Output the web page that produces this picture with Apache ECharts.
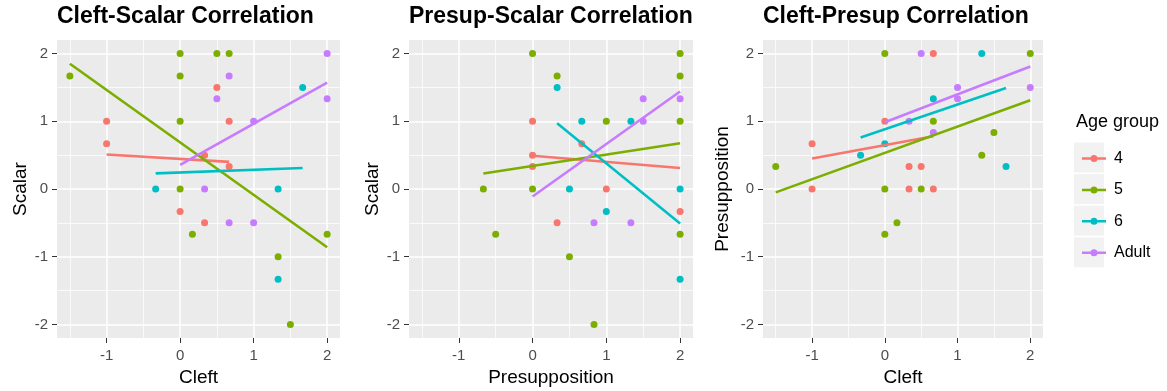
<!DOCTYPE html>
<html>
<head>
<meta charset="utf-8">
<script src="https://cdn.jsdelivr.net/npm/echarts@6/dist/echarts.min.js"></script>
<style>
  html, body { margin: 0; padding: 0; background: #fff; }
  #chart { width: 1167px; height: 391px; }
</style>
</head>
<body>
<div id="chart"></div>
<script>
const FONT = "'Liberation Sans', Arial, sans-serif"

const groupNames = ["4", "5", "6", "Adult"]
const groupColors = ["#F8766D", "#7CAE00", "#00BFC4", "#C77CFF"]

const panelTitles = ["Cleft-Scalar Correlation", "Presup-Scalar Correlation", "Cleft-Presup Correlation"]
const xNames = ["Cleft", "Presupposition", "Cleft"]
const yNames = ["Scalar", "Scalar", "Presupposition"]

const majorX = [-1, 0, 1, 2]
const minorX = [-1.5, -0.5, 0.5, 1.5]
const majorY = [-2, -1, 0, 1, 2]
const minorY = [-1.5, -0.5, 0.5, 1.5]

// Cleft vs Scalar
const csPoints4 = [[-1, 1], [-1, 0.667], [0.5, 1.5], [0.667, 1], [0.333, 0.5], [0.667, 0.333], [0, -0.333], [0.333, -0.5]]
const csPoints5 = [[-1.5, 1.667], [0, 2], [0.5, 2], [0.667, 2], [0, 1.667], [0, 1], [0, 0], [0.167, -0.667], [2, -0.667], [1.333, -1], [1.5, -2]]
const csPoints6 = [[-0.333, 0], [1.667, 1.5], [1.333, 0], [1.333, -1.333]]
const csPointsA = [[2, 2], [0.667, 1.667], [0.5, 1.333], [2, 1.333], [1, 1], [0.333, 0], [0.667, -0.5], [1, -0.5]]
const csFit4 = [[-1, 0.51], [0.667, 0.40]]
const csFit5 = [[-1.5, 1.85], [2, -0.86]]
const csFit6 = [[-0.333, 0.23], [1.667, 0.31]]
const csFitA = [[0, 0.355], [2, 1.57]]

// Presupposition vs Scalar
const psPoints4 = [[0, 1], [0, 0.5], [0, 0.333], [0.667, 0.667], [1, 0], [2, -0.333], [0.333, -0.5]]
const psPoints5 = [[0, 2], [-0.667, 0], [0, 0], [2, 2], [0.333, 1.667], [2, 1.667], [1, 1], [2, 1], [2, -0.667], [0.5, -1], [0.833, -2], [-0.5, -0.667]]
const psPoints6 = [[0.333, 1.5], [0.667, 1], [1.333, 1], [0.5, 0], [2, 0], [1, -0.333], [2, -1.333]]
const psPointsA = [[1.5, 1.333], [2, 1.333], [1.5, 1], [0.833, -0.5], [1.333, -0.5]]
const psFit4 = [[0, 0.49], [2, 0.31]]
const psFit5 = [[-0.667, 0.23], [2, 0.675]]
const psFit6 = [[0.333, 0.97], [2, -0.51]]
const psFitA = [[0, -0.11], [2, 1.44]]

// Cleft vs Presupposition
const cpPoints4 = [[-1, 0.667], [-1, 0], [0, 1], [0.667, 2], [0.333, 0.333], [0.5, 0.333], [0.333, 0], [0.667, 0]]
const cpPoints5 = [[-1.5, 0.333], [0, 2], [0, 0], [2, 2], [0.667, 1], [1.5, 0.833], [1.333, 0.5], [0.5, 0], [0, -0.667], [0.167, -0.5]]
const cpPoints6 = [[-0.333, 0.5], [0, 0.667], [1.333, 2], [0.667, 1.333], [1.667, 0.333]]
const cpPointsA = [[0.5, 2], [1, 1.5], [2, 1.5], [1, 1.333], [0.333, 1], [0.667, 0.833]]
const cpFit4 = [[-1, 0.45], [0.667, 0.78]]
const cpFit5 = [[-1.5, -0.05], [2, 1.31]]
const cpFit6 = [[-0.333, 0.76], [1.667, 1.49]]
const cpFitA = [[0, 0.985], [2, 1.81]]

const panelPoints = [
  [csPoints4, csPoints5, csPoints6, csPointsA],
  [psPoints4, psPoints5, psPoints6, psPointsA],
  [cpPoints4, cpPoints5, cpPoints6, cpPointsA],
]
const panelFits = [
  [csFit4, csFit5, csFit6, csFitA],
  [psFit4, psFit5, psFit6, psFitA],
  [cpFit4, cpFit5, cpFit6, cpFitA],
]

const grids = [
  { left: 57, top: 40, width: 283, height: 298 },
  { left: 409, top: 40, width: 284, height: 298 },
  { left: 763, top: 40, width: 280, height: 298 },
]
const yNameGaps = [27, 27, 31]

const xAxes = []
const yAxes = []
const series = []

grids.forEach((g, i) => {
  // major grid, ticks, labels
  xAxes.push({
    gridIndex: i, type: "value", min: -1.675, max: 2.175, position: "bottom",
    axisLine: { show: false, onZero: false },
    axisTick: { show: true, length: 5, lineStyle: { color: "#333333", width: 1 }, customValues: majorX },
    axisLabel: { customValues: majorX, color: "#4D4D4D", fontSize: 15, margin: 10, fontFamily: FONT },
    splitLine: { show: true, lineStyle: { color: "#ffffff", width: 1.5 } },
    name: xNames[i], nameLocation: "middle", nameGap: 29,
    nameTextStyle: { fontSize: 19, color: "#000", fontFamily: FONT },
  })
  // minor grid
  xAxes.push({
    gridIndex: i, type: "value", min: -1.675, max: 2.175, position: "top",
    axisLine: { show: false, onZero: false },
    axisTick: { show: false, customValues: minorX },
    axisLabel: { show: false, customValues: minorX },
    splitLine: { show: true, lineStyle: { color: "#ffffff", width: 0.75 } },
  })
  yAxes.push({
    gridIndex: i, type: "value", min: -2.2, max: 2.2, position: "left",
    axisLine: { show: false, onZero: false },
    axisTick: { show: true, length: 5, lineStyle: { color: "#333333", width: 1 }, customValues: majorY },
    axisLabel: { customValues: majorY, color: "#4D4D4D", fontSize: 15, margin: 9, fontFamily: FONT },
    splitLine: { show: true, lineStyle: { color: "#ffffff", width: 1.5 } },
    name: yNames[i], nameLocation: "middle", nameGap: yNameGaps[i],
    nameTextStyle: { fontSize: 19, color: "#000", fontFamily: FONT },
  })
  yAxes.push({
    gridIndex: i, type: "value", min: -2.2, max: 2.2, position: "right",
    axisLine: { show: false, onZero: false },
    axisTick: { show: false, customValues: minorY },
    axisLabel: { show: false, customValues: minorY },
    splitLine: { show: true, lineStyle: { color: "#ffffff", width: 0.75 } },
  })

  groupNames.forEach((name, k) => {
    series.push({
      type: "scatter", name, xAxisIndex: 2 * i, yAxisIndex: 2 * i,
      data: panelPoints[i][k], symbolSize: 7, z: 3,
      itemStyle: { color: groupColors[k], opacity: 1 },
    })
  })
  groupNames.forEach((name, k) => {
    series.push({
      type: "line", name, xAxisIndex: 2 * i, yAxisIndex: 2 * i,
      data: panelFits[i][k], symbol: "none", z: 4,
      lineStyle: { color: groupColors[k], width: 2.6 },
      itemStyle: { color: groupColors[k] },
    })
  })
})

const keyIcon = "path://M0,5.75 L24,5.75 L24,8.25 L0,8.25 Z M8.5,7 A3.5,3.5 0 1 1 15.5,7 A3.5,3.5 0 1 1 8.5,7 Z"

const chart = echarts.init(document.getElementById("chart"))
chart.setOption({
  animation: false,
  backgroundColor: "#ffffff",
  textStyle: { fontFamily: FONT },
  title: panelTitles.map((t, i) => ({
    text: t, left: grids[i].left, top: 5, padding: 0,
    textStyle: { fontSize: 23, fontWeight: "bold", color: "#000", fontFamily: FONT },
  })).concat([{
    text: "Age group", left: 1076, top: 113, padding: 0,
    textStyle: { fontSize: 18, fontWeight: "normal", color: "#000", fontFamily: FONT },
  }]),
  grid: grids.map(g => Object.assign({}, g, {
    show: true, backgroundColor: "#EBEBEB", borderWidth: 0, containLabel: false, outerBoundsMode: "none",
  })),
  xAxis: xAxes,
  yAxis: yAxes,
  graphic: groupNames.map((n, k) => ({
    type: "rect", left: 1074, top: 142.5 + 31.6 * k, z: -1,
    shape: { width: 30, height: 30 }, style: { fill: "#F2F2F2" },
  })),
  legend: {
    orient: "vertical", left: 1077, top: 145.5,
    itemWidth: 24, itemHeight: 14, itemGap: 15.4,
    selectedMode: false,
    textStyle: { fontSize: 16, color: "#000", lineHeight: 16, fontFamily: FONT, padding: [0, 0, 0, 3] },
    data: groupNames.map(n => ({ name: n, icon: keyIcon })),
  },
  series,
})
</script>
</body>
</html>
